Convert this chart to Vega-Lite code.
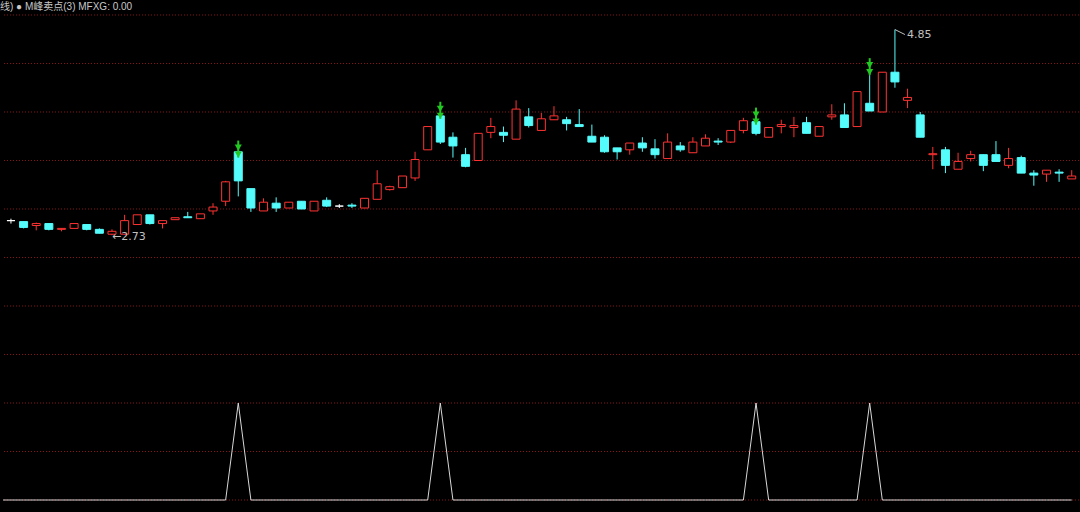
{
  "$schema": "https://vega.github.io/schema/vega-lite/v6.json",
  "width": 1080,
  "height": 512,
  "autosize": {"type": "fit", "contains": "padding"},
  "padding": 0,
  "background": "#000000",
  "config": {"view": {"stroke": null}},
  "title": {"text": "线) ● M峰卖点(3)  MFXG: 0.00", "anchor": "start", "frame": "group", "offset": -12, "dx": -3, "fontSize": 10, "font": "Liberation Sans, Noto Sans CJK SC", "fontWeight": "normal", "color": "#c8c8c8"},
  "datasets": {
    "grid": [{"g": 0}, {"g": 0.5}, {"g": 1}, {"g": 1.5}, {"g": 2}, {"g": 2.5}, {"g": 3}, {"g": 3.5}, {"g": 4}, {"g": 4.5}, {"g": 5}],
    "k": [
      {"i": -1, "o": 2.91, "h": 2.91, "l": 2.87, "c": 2.88, "m": 0},
      {"i": 0, "o": 2.88, "h": 2.90, "l": 2.85, "c": 2.88, "m": 0},
      {"i": 1, "o": 2.87, "h": 2.87, "l": 2.80, "c": 2.81, "m": 0},
      {"i": 2, "o": 2.83, "h": 2.86, "l": 2.78, "c": 2.85, "m": 0},
      {"i": 3, "o": 2.85, "h": 2.85, "l": 2.78, "c": 2.79, "m": 0},
      {"i": 4, "o": 2.79, "h": 2.80, "l": 2.77, "c": 2.80, "m": 0},
      {"i": 5, "o": 2.80, "h": 2.85, "l": 2.80, "c": 2.85, "m": 0},
      {"i": 6, "o": 2.84, "h": 2.84, "l": 2.78, "c": 2.79, "m": 0},
      {"i": 7, "o": 2.79, "h": 2.80, "l": 2.75, "c": 2.75, "m": 0},
      {"i": 8, "o": 2.74, "h": 2.79, "l": 2.73, "c": 2.77, "m": 0},
      {"i": 9, "o": 2.74, "h": 2.94, "l": 2.74, "c": 2.88, "m": 0},
      {"i": 10, "o": 2.84, "h": 2.94, "l": 2.84, "c": 2.94, "m": 0},
      {"i": 11, "o": 2.94, "h": 2.94, "l": 2.84, "c": 2.85, "m": 0},
      {"i": 12, "o": 2.85, "h": 2.88, "l": 2.80, "c": 2.88, "m": 0},
      {"i": 13, "o": 2.89, "h": 2.91, "l": 2.89, "c": 2.91, "m": 0},
      {"i": 14, "o": 2.92, "h": 2.97, "l": 2.91, "c": 2.91, "m": 0},
      {"i": 15, "o": 2.90, "h": 2.95, "l": 2.90, "c": 2.95, "m": 0},
      {"i": 16, "o": 2.98, "h": 3.06, "l": 2.94, "c": 3.02, "m": 0},
      {"i": 17, "o": 3.08, "h": 3.29, "l": 3.03, "c": 3.28, "m": 0},
      {"i": 18, "o": 3.59, "h": 3.59, "l": 3.13, "c": 3.29, "m": 1, "s": 3.53},
      {"i": 19, "o": 3.21, "h": 3.21, "l": 2.97, "c": 3.01, "m": 0},
      {"i": 20, "o": 2.98, "h": 3.11, "l": 2.98, "c": 3.07, "m": 0},
      {"i": 21, "o": 3.06, "h": 3.12, "l": 2.97, "c": 3.01, "m": 0},
      {"i": 22, "o": 3.01, "h": 3.07, "l": 3.01, "c": 3.07, "m": 0},
      {"i": 23, "o": 3.08, "h": 3.08, "l": 3.00, "c": 3.00, "m": 0},
      {"i": 24, "o": 2.98, "h": 3.08, "l": 2.98, "c": 3.08, "m": 0},
      {"i": 25, "o": 3.09, "h": 3.12, "l": 3.02, "c": 3.03, "m": 0},
      {"i": 26, "o": 3.03, "h": 3.05, "l": 3.01, "c": 3.03, "m": 0},
      {"i": 27, "o": 3.04, "h": 3.06, "l": 3.01, "c": 3.03, "m": 0},
      {"i": 28, "o": 3.01, "h": 3.11, "l": 3.01, "c": 3.11, "m": 0},
      {"i": 29, "o": 3.10, "h": 3.40, "l": 3.10, "c": 3.26, "m": 0},
      {"i": 30, "o": 3.20, "h": 3.24, "l": 3.19, "c": 3.23, "m": 0},
      {"i": 31, "o": 3.22, "h": 3.34, "l": 3.22, "c": 3.34, "m": 0},
      {"i": 32, "o": 3.32, "h": 3.59, "l": 3.29, "c": 3.51, "m": 0},
      {"i": 33, "o": 3.61, "h": 3.85, "l": 3.61, "c": 3.85, "m": 0},
      {"i": 34, "o": 3.96, "h": 3.96, "l": 3.67, "c": 3.69, "m": 1, "s": 3.93},
      {"i": 35, "o": 3.74, "h": 3.79, "l": 3.53, "c": 3.65, "m": 0},
      {"i": 36, "o": 3.56, "h": 3.63, "l": 3.43, "c": 3.44, "m": 0},
      {"i": 37, "o": 3.50, "h": 3.78, "l": 3.50, "c": 3.78, "m": 0},
      {"i": 38, "o": 3.79, "h": 3.94, "l": 3.73, "c": 3.85, "m": 0},
      {"i": 39, "o": 3.79, "h": 3.85, "l": 3.69, "c": 3.76, "m": 0},
      {"i": 40, "o": 3.72, "h": 4.12, "l": 3.72, "c": 4.03, "m": 0},
      {"i": 41, "o": 3.95, "h": 4.04, "l": 3.84, "c": 3.86, "m": 0},
      {"i": 42, "o": 3.81, "h": 3.99, "l": 3.81, "c": 3.93, "m": 0},
      {"i": 43, "o": 3.92, "h": 4.06, "l": 3.92, "c": 3.96, "m": 0},
      {"i": 44, "o": 3.92, "h": 3.95, "l": 3.81, "c": 3.88, "m": 0},
      {"i": 45, "o": 3.87, "h": 4.03, "l": 3.85, "c": 3.85, "m": 0},
      {"i": 46, "o": 3.75, "h": 3.87, "l": 3.69, "c": 3.69, "m": 0},
      {"i": 47, "o": 3.74, "h": 3.76, "l": 3.58, "c": 3.59, "m": 0},
      {"i": 48, "o": 3.63, "h": 3.63, "l": 3.51, "c": 3.59, "m": 0},
      {"i": 49, "o": 3.61, "h": 3.68, "l": 3.56, "c": 3.68, "m": 0},
      {"i": 50, "o": 3.68, "h": 3.74, "l": 3.59, "c": 3.63, "m": 0},
      {"i": 51, "o": 3.62, "h": 3.72, "l": 3.52, "c": 3.56, "m": 0},
      {"i": 52, "o": 3.52, "h": 3.78, "l": 3.52, "c": 3.69, "m": 0},
      {"i": 53, "o": 3.65, "h": 3.69, "l": 3.59, "c": 3.61, "m": 0},
      {"i": 54, "o": 3.58, "h": 3.74, "l": 3.58, "c": 3.69, "m": 0},
      {"i": 55, "o": 3.65, "h": 3.77, "l": 3.65, "c": 3.73, "m": 0},
      {"i": 56, "o": 3.70, "h": 3.73, "l": 3.66, "c": 3.69, "m": 0},
      {"i": 57, "o": 3.69, "h": 3.81, "l": 3.68, "c": 3.81, "m": 0},
      {"i": 58, "o": 3.81, "h": 3.94, "l": 3.78, "c": 3.91, "m": 0},
      {"i": 59, "o": 3.90, "h": 3.93, "l": 3.76, "c": 3.78, "m": 1, "s": 3.87},
      {"i": 60, "o": 3.74, "h": 3.84, "l": 3.74, "c": 3.84, "m": 0},
      {"i": 61, "o": 3.85, "h": 3.92, "l": 3.78, "c": 3.87, "m": 0},
      {"i": 62, "o": 3.84, "h": 3.95, "l": 3.74, "c": 3.86, "m": 0},
      {"i": 63, "o": 3.89, "h": 3.95, "l": 3.78, "c": 3.78, "m": 0},
      {"i": 64, "o": 3.75, "h": 3.85, "l": 3.75, "c": 3.85, "m": 0},
      {"i": 65, "o": 3.95, "h": 4.08, "l": 3.92, "c": 3.97, "m": 0},
      {"i": 66, "o": 3.97, "h": 4.09, "l": 3.84, "c": 3.84, "m": 0},
      {"i": 67, "o": 3.85, "h": 4.21, "l": 3.85, "c": 4.21, "m": 0},
      {"i": 68, "o": 4.09, "h": 4.38, "l": 4.01, "c": 4.01, "m": 1, "s": 4.38},
      {"i": 69, "o": 4.00, "h": 4.41, "l": 4.00, "c": 4.41, "m": 0},
      {"i": 70, "o": 4.41, "h": 4.85, "l": 4.25, "c": 4.31, "m": 0},
      {"i": 71, "o": 4.12, "h": 4.24, "l": 4.04, "c": 4.15, "m": 0},
      {"i": 72, "o": 3.97, "h": 4.00, "l": 3.74, "c": 3.74, "m": 0},
      {"i": 73, "o": 3.56, "h": 3.64, "l": 3.41, "c": 3.57, "m": 0},
      {"i": 74, "o": 3.61, "h": 3.64, "l": 3.37, "c": 3.45, "m": 0},
      {"i": 75, "o": 3.41, "h": 3.58, "l": 3.41, "c": 3.49, "m": 0},
      {"i": 76, "o": 3.52, "h": 3.60, "l": 3.49, "c": 3.56, "m": 0},
      {"i": 77, "o": 3.56, "h": 3.56, "l": 3.39, "c": 3.45, "m": 0},
      {"i": 78, "o": 3.56, "h": 3.70, "l": 3.49, "c": 3.49, "m": 0},
      {"i": 79, "o": 3.45, "h": 3.63, "l": 3.42, "c": 3.52, "m": 0},
      {"i": 80, "o": 3.53, "h": 3.55, "l": 3.37, "c": 3.37, "m": 0},
      {"i": 81, "o": 3.37, "h": 3.40, "l": 3.24, "c": 3.35, "m": 0},
      {"i": 82, "o": 3.36, "h": 3.40, "l": 3.28, "c": 3.40, "m": 0},
      {"i": 83, "o": 3.38, "h": 3.41, "l": 3.28, "c": 3.37, "m": 0},
      {"i": 84, "o": 3.31, "h": 3.40, "l": 3.31, "c": 3.34, "m": 0}
    ]
  },
  "layer": [
    {
      "data": {"name": "grid"},
      "mark": {"type": "rule", "stroke": "#8e1212", "strokeWidth": 1, "strokeDash": [1, 2]},
      "encoding": {
        "y": {"field": "g", "type": "quantitative", "scale": {"domain": [-0.1237, 5.1546], "nice": false, "zero": false}, "axis": null}
      }
    },
    {
      "data": {"name": "k"},
      "mark": {"type": "line", "stroke": "#d8d8d8", "strokeWidth": 1, "clip": true},
      "encoding": {
        "x": {"field": "i", "type": "quantitative", "scale": {"domain": [-0.631, 84.576], "nice": false, "zero": false, "padding": 0}, "axis": null},
        "y": {"field": "m", "type": "quantitative", "scale": {"domain": [-0.1237, 5.1546], "nice": false, "zero": false}, "axis": null}
      }
    },
    {
      "data": {"name": "k"},
      "mark": {"type": "rule", "strokeWidth": 1, "clip": true},
      "encoding": {
        "x": {"field": "i", "type": "quantitative", "scale": {"domain": [-0.631, 84.576], "nice": false, "zero": false, "padding": 0}, "axis": null},
        "y": {"field": "l", "type": "quantitative", "scale": {"domain": [-0.1237, 5.1546], "nice": false, "zero": false}, "axis": null},
        "y2": {"field": "h"},
        "stroke": {"condition": [{"test": "datum.c > datum.o", "value": "#ff3232"}, {"test": "datum.c < datum.o", "value": "#54fcfc"}], "value": "#ffffff"}
      }
    },
    {
      "data": {"name": "k"},
      "mark": {"type": "bar", "orient": "vertical", "size": 8, "strokeWidth": 1, "clip": true},
      "encoding": {
        "x": {"field": "i", "type": "quantitative", "scale": {"domain": [-0.631, 84.576], "nice": false, "zero": false, "padding": 0}, "axis": null},
        "y": {"field": "o", "type": "quantitative", "scale": {"domain": [-0.1237, 5.1546], "nice": false, "zero": false}, "axis": null},
        "y2": {"field": "c"},
        "fill": {"condition": [{"test": "datum.c > datum.o", "value": "#000000"}, {"test": "datum.c < datum.o", "value": "#54fcfc"}], "value": "#ffffff"},
        "stroke": {"condition": [{"test": "datum.c > datum.o", "value": "#ff3232"}, {"test": "datum.c < datum.o", "value": "#54fcfc"}], "value": "#ffffff"}
      }
    },
    {
      "data": {"name": "k"},
      "transform": [{"filter": "isValid(datum.s)"}],
      "mark": {"type": "rule", "stroke": "#22c822", "strokeWidth": 2, "y2Offset": -17},
      "encoding": {
        "x": {"field": "i", "type": "quantitative", "scale": {"domain": [-0.631, 84.576], "nice": false, "zero": false, "padding": 0}, "axis": null},
        "y": {"field": "s", "type": "quantitative", "scale": {"domain": [-0.1237, 5.1546], "nice": false, "zero": false}, "axis": null},
        "y2": {"field": "s"}
      }
    },
    {
      "data": {"name": "k"},
      "transform": [{"filter": "isValid(datum.s)"}],
      "mark": {"type": "point", "shape": "triangle-down", "filled": true, "color": "#22c822", "opacity": 1, "size": 50, "yOffset": -3},
      "encoding": {
        "x": {"field": "i", "type": "quantitative", "scale": {"domain": [-0.631, 84.576], "nice": false, "zero": false, "padding": 0}, "axis": null},
        "y": {"field": "s", "type": "quantitative", "scale": {"domain": [-0.1237, 5.1546], "nice": false, "zero": false}, "axis": null}
      }
    },
    {
      "data": {"name": "k"},
      "transform": [{"filter": "isValid(datum.s)"}],
      "mark": {"type": "point", "shape": "triangle-down", "filled": true, "color": "#22c822", "opacity": 1, "size": 50, "yOffset": -10},
      "encoding": {
        "x": {"field": "i", "type": "quantitative", "scale": {"domain": [-0.631, 84.576], "nice": false, "zero": false, "padding": 0}, "axis": null},
        "y": {"field": "s", "type": "quantitative", "scale": {"domain": [-0.1237, 5.1546], "nice": false, "zero": false}, "axis": null}
      }
    },
    {
      "data": {"values": [{"i": 8, "p": 2.73, "t": "←2.73"}]},
      "mark": {"type": "text", "align": "left", "baseline": "middle", "dx": 0, "dy": 2, "fontSize": 11, "font": "DejaVu Sans", "color": "#c0c0c0"},
      "encoding": {
        "x": {"field": "i", "type": "quantitative", "scale": {"domain": [-0.631, 84.576], "nice": false, "zero": false, "padding": 0}, "axis": null},
        "y": {"field": "p", "type": "quantitative", "scale": {"domain": [-0.1237, 5.1546], "nice": false, "zero": false}, "axis": null},
        "text": {"field": "t"}
      }
    },
    {
      "data": {"values": [{"i": 70, "p": 4.85, "t": "4.85"}]},
      "mark": {"type": "rule", "stroke": "#c0c0c0", "strokeWidth": 1, "x2Offset": 10, "y2Offset": 5},
      "encoding": {
        "x": {"field": "i", "type": "quantitative", "scale": {"domain": [-0.631, 84.576], "nice": false, "zero": false, "padding": 0}, "axis": null},
        "y": {"field": "p", "type": "quantitative", "scale": {"domain": [-0.1237, 5.1546], "nice": false, "zero": false}, "axis": null},
        "x2": {"field": "i"},
        "y2": {"field": "p"}
      }
    },
    {
      "data": {"values": [{"i": 70, "p": 4.85, "t": "4.85"}]},
      "mark": {"type": "text", "align": "left", "baseline": "middle", "dx": 12, "dy": 5, "fontSize": 11, "font": "DejaVu Sans", "color": "#c0c0c0"},
      "encoding": {
        "x": {"field": "i", "type": "quantitative", "scale": {"domain": [-0.631, 84.576], "nice": false, "zero": false, "padding": 0}, "axis": null},
        "y": {"field": "p", "type": "quantitative", "scale": {"domain": [-0.1237, 5.1546], "nice": false, "zero": false}, "axis": null},
        "text": {"field": "t"}
      }
    }
  ]
}
